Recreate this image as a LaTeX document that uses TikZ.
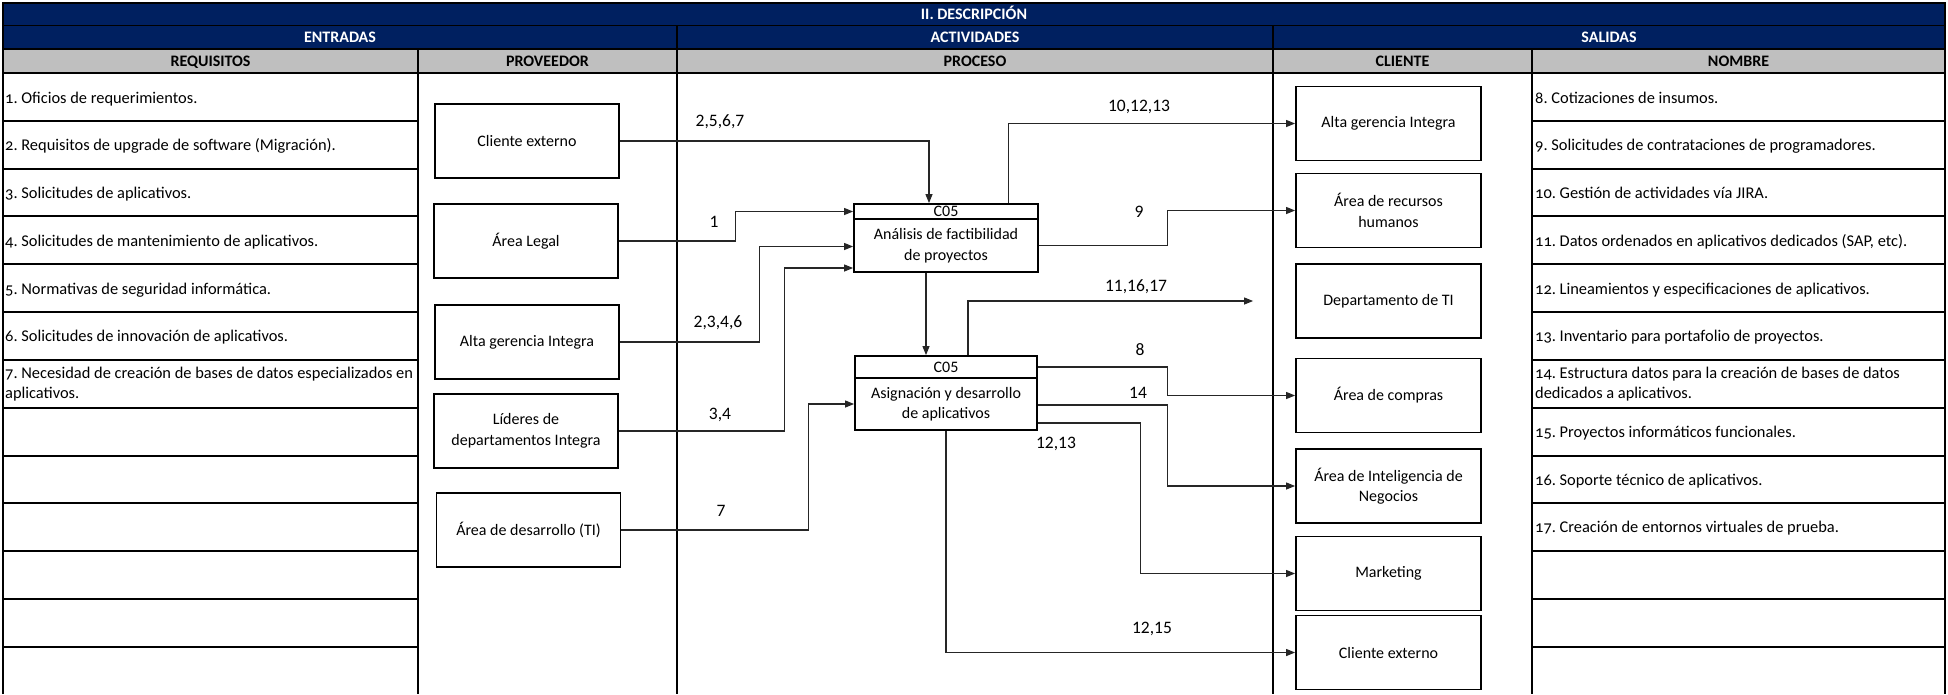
\documentclass[tikz,border=0pt]{standalone}
\usepackage{fontspec}
\setmainfont{Carlito}
\newfontfamily\rowfont{Carlito}[Numbers=OldStyle]
\usetikzlibrary{arrows.meta,calc}
\definecolor{navy}{HTML}{002060}
\definecolor{hdrgrey}{HTML}{BFBFBF}
\begin{document}
\frenchspacing
\begin{tikzpicture}[x=1pt,y=-1pt,
  every node/.style={font=\fontsize{16}{20.5}\selectfont, inner sep=0pt},
  tline/.style={line width=1.7pt, draw=black},
  hw/.style={anchor=base, text=white, font=\fontsize{16}{20}\selectfont\bfseries},
  hb/.style={anchor=base, text=black, font=\fontsize{16}{20}\selectfont\bfseries},
  rowtxt/.style={anchor=base west, font=\rowfont\fontsize{16.4}{20.5}\selectfont},
  rowtwo/.style={anchor=west, align=left, font=\rowfont\fontsize{16.4}{20.5}\selectfont},
  box/.style={draw, line width=1.8pt, minimum width=184pt, minimum height=74pt, align=center},
  phead/.style={draw, line width=1.8pt, minimum width=184pt, minimum height=15pt, align=center},
  pbody/.style={draw, line width=1.8pt, minimum width=184pt, minimum height=53pt, align=center},
  lbl/.style={font=\fontsize{17.5}{20}\selectfont},
  conn/.style={line width=1.1pt, draw=black!85},
  arr/.style={conn, -{Triangle[length=9pt,width=7pt]}}
]
\useasboundingbox (0,0) rectangle (1948,694);
% header fills
\fill[navy] (3,3) rectangle (1945,49);
\fill[hdrgrey] (3,49) rectangle (1945,73);
% header texts
\node[hw] (hdesc) at (974,19.4) {II. DESCRIPCIÓN};
\node[hw] (hent) at (340,42.2) {ENTRADAS};
\node[hw] (hact) at (975,42.2) {ACTIVIDADES};
\node[hw] (hsal) at (1609,42.2) {SALIDAS};
\node[hb] (hreq) at (210.5,66) {REQUISITOS};
\node[hb] (hprov) at (547.5,66) {PROVEEDOR};
\node[hb] (hproc) at (975,66) {PROCESO};
\node[hb] (hcli) at (1402.5,66) {CLIENTE};
\node[hb] (hnom) at (1738.5,66) {NOMBRE};
% table lines
\draw[tline] (3,694) -- (3,3) -- (1945,3) -- (1945,694);
\draw[tline] (3,25.5) -- (1945,25.5);
\draw[tline] (3,49) -- (1945,49);
\draw[tline] (3,73) -- (1945,73);
\draw[tline] (677,25.5) -- (677,694);
\draw[tline] (1273,25.5) -- (1273,694);
\draw[tline] (418,49) -- (418,694);
\draw[tline] (1532,49) -- (1532,694);
\foreach \yy in {121,169,216,264,312,360,408,456,503,551,599,647} {
  \draw[tline] (3,\yy) -- (418,\yy);
  \draw[tline] (1532,\yy) -- (1945,\yy);
}
% requisitos
\node[rowtxt] (r1) at (5,103) {1. Oficios de requerimientos.};
\node[rowtxt] (r2) at (5,150.75) {2. Requisitos de upgrade de software (Migración).};
\node[rowtxt] (r3) at (5,198.5) {3. Solicitudes de aplicativos.};
\node[rowtxt] (r4) at (5,246.25) {4. Solicitudes de mantenimiento de aplicativos.};
\node[rowtxt] (r5) at (5,294) {5. Normativas de seguridad informática.};
\node[rowtxt] (r6) at (5,341.75) {6. Solicitudes de innovación de aplicativos.};
\node[rowtwo] (r7) at (5,384.1) {7. Necesidad de creación de bases de datos especializados en\\aplicativos.};
% nombre
\node[rowtxt] (n8) at (1535,103) {8. Cotizaciones de insumos.};
\node[rowtxt] (n9) at (1535,150.75) {9. Solicitudes de contrataciones de programadores.};
\node[rowtxt] (n10) at (1535,198.5) {10. Gestión de actividades vía JIRA.};
\node[rowtxt] (n11) at (1535,246.25) {11. Datos ordenados en aplicativos dedicados (SAP, etc).};
\node[rowtxt] (n12) at (1535,294) {12. Lineamientos y especificaciones de aplicativos.};
\node[rowtxt] (n13) at (1535,341.75) {13. Inventario para portafolio de proyectos.};
\node[rowtwo] (n14) at (1535,384.1) {14. Estructura datos para la creación de bases de datos\\dedicados a aplicativos.};
\node[rowtxt] (n15) at (1535,437.25) {15. Proyectos informáticos funcionales.};
\node[rowtxt] (n16) at (1535,485) {16. Soporte técnico de aplicativos.};
\node[rowtxt] (n17) at (1535,532.75) {17. Creación de entornos virtuales de prueba.};
% proveedores
\node[box] (p1) at (527,141) {Cliente externo};
\node[box] (p2) at (526,241) {Área Legal};
\node[box] (p3) at (527,342) {Alta gerencia Integra};
\node[box] (p4) at (526,431) {Líderes de\\departamentos Integra};
\node[box] (p5) at (528.5,530) {Área de desarrollo (TI)};
% clientes
\node[box,minimum width=185pt] (c1) at (1388.5,123.5) {Alta gerencia Integra};
\node[box,minimum width=185pt] (c2) at (1388.5,210.5) {Área de recursos\\humanos};
\node[box,minimum width=185pt] (c3) at (1388.5,301) {Departamento de TI};
\node[box,minimum width=185pt] (c4) at (1388.5,395.5) {Área de compras};
\node[box,minimum width=185pt] (c5) at (1388.5,486) {Área de Inteligencia de\\Negocios};
\node[box,minimum width=185pt] (c6) at (1388.5,573.5) {Marketing};
\node[box,minimum width=185pt] (c7) at (1388.5,652.5) {Cliente externo};
% procesos
\node[phead] (a1h) at (946,211.5) {C05};
\node[pbody] (a1) at (946,245.5) {Análisis de factibilidad\\de proyectos};
\node[phead,minimum width=182pt,minimum height=22pt] (a2h) at (946,367) {C05};
\node[pbody,minimum width=182pt,minimum height=52pt] (a2) at (946,404) {Asignación y desarrollo\\de aplicativos};
% connectors
\draw[arr] (p1.east) -| ($(a1h.north)+(-17,0)$);
\draw[arr] (p2.east) -- ++(117,0) |- (a1h.west);
\draw[arr] (p3.east) -- ++(139.5,0) |- ($(a1.west)+(0,1)$);
\draw[arr] (p4.east) -- ++(166,0) |- ($(a1.west)+(0,22.5)$);
\draw[arr] (p5.east) -- ++(187,0) |- (a2.west);
\draw[arr] ($(a1.south)+(-20,0)$) -- ($(a2h.north)+(-20,0)$);
\draw[arr] ($(a1h.north)+(62.5,0)$) |- (c1.west);
\draw[arr] (a1.east) -- ++(129,0) |- (c2.west);
\coordinate (e11) at ($(c3.west)+(-42,0)$);
\draw[arr] ($(a2h.north)+(22,0)$) |- (e11);
\draw[arr] (a2h.east) -- ++(130,0) |- (c4.west);
\draw[arr] ($(a2.east)+(0,1)$) -- ++(130,0) |- (c5.west);
\draw[arr] ($(a2.east)+(0,19)$) -- ++(103,0) |- (c6.west);
\draw[arr] (a2.south) |- (c7.west);
% labels
\node[lbl] (l2567) at (720,122) {2,5,6,7};
\node[lbl] (l1) at (714,222) {1};
\node[lbl] (l2346) at (718,323) {2,3,4,6};
\node[lbl] (l34) at (720,415) {3,4};
\node[lbl] (l7) at (721,511) {7};
\node[lbl] (l101213) at (1139,107) {10,12,13};
\node[lbl] (l9) at (1139,212) {9};
\node[lbl] (l111617) at (1136,287) {11,16,17};
\node[lbl] (l8) at (1140,350) {8};
\node[lbl] (l14) at (1138,393) {14};
\node[lbl] (l1213) at (1056,444) {12,13};
\node[lbl] (l1215) at (1152,629) {12,15};
\end{tikzpicture}
\end{document}
